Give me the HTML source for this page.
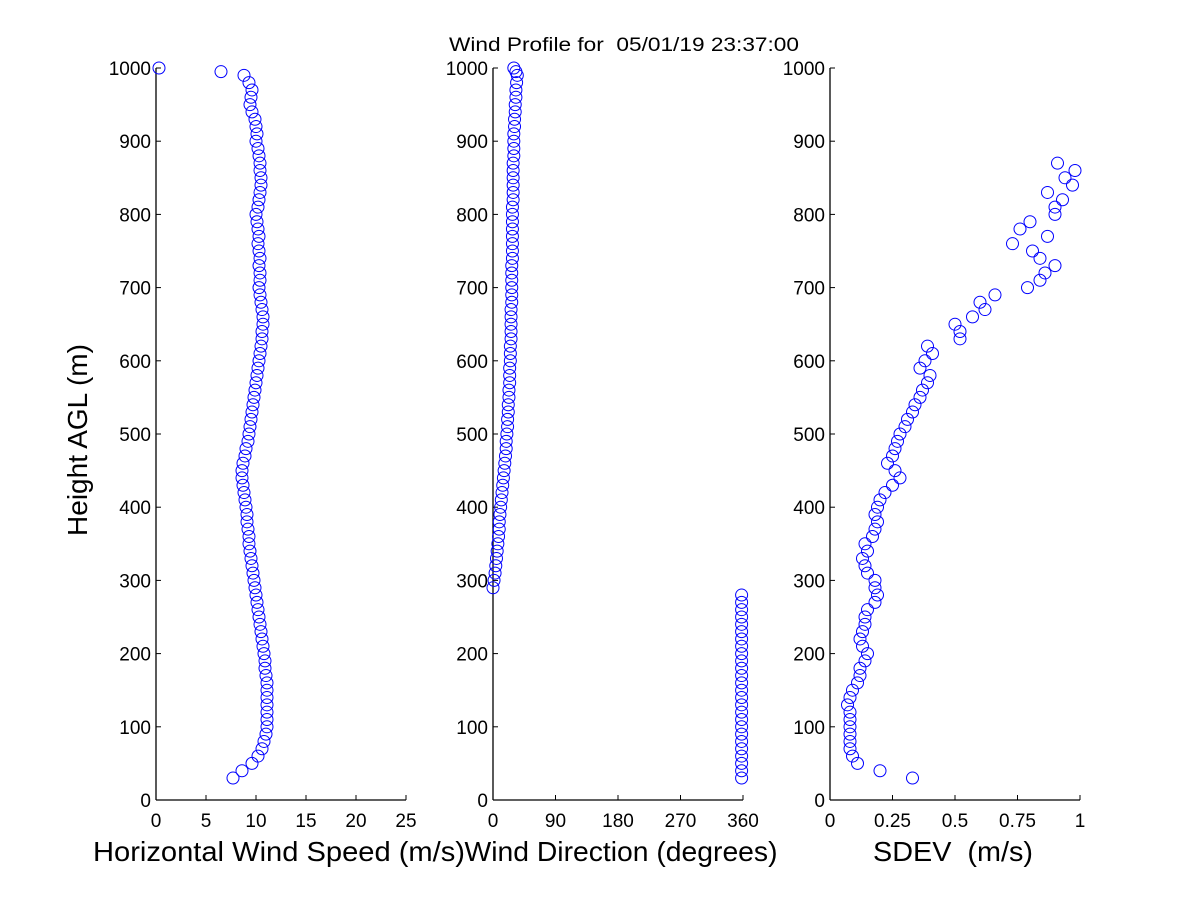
<!DOCTYPE html>
<html><head><meta charset="utf-8"><style>
body{margin:0;background:#fff}
svg text{font-family:"Liberation Sans",sans-serif;fill:#000;white-space:pre}
</style></head><body>
<svg id="c" width="1200" height="900">
<text x="624" y="51" text-anchor="middle" font-size="19" textLength="350" lengthAdjust="spacingAndGlyphs" xml:space="preserve">Wind Profile for  05/01/19 23:37:00</text>
<text transform="translate(87,440) rotate(-90)" text-anchor="middle" font-size="28">Height AGL (m)</text>
</svg>
<script>
const heights=[30,40,50,60,70,80,90,100,110,120,130,140,150,160,170,180,190,200,210,220,230,240,250,260,270,280,290,300,310,320,330,340,350,360,370,380,390,400,410,420,430,440,450,460,470,480,490,500,510,520,530,540,550,560,570,580,590,600,610,620,630,640,650,660,670,680,690,700,710,720,730,740,750,760,770,780,790,800,810,820,830,840,850,860,870,880,890,900,910,920,930,940,950,960,970,980,990,995,1000];
const speed=[7.7,8.6,9.6,10.2,10.6,10.8,11.0,11.1,11.1,11.1,11.1,11.1,11.1,11.1,11.0,10.9,10.9,10.8,10.7,10.6,10.5,10.4,10.3,10.2,10.1,10.0,9.9,9.8,9.7,9.6,9.5,9.4,9.3,9.3,9.2,9.1,9.1,9.0,8.9,8.8,8.7,8.6,8.6,8.7,8.9,9.0,9.2,9.3,9.4,9.5,9.6,9.7,9.8,9.9,10.0,10.1,10.2,10.3,10.4,10.5,10.6,10.6,10.7,10.7,10.6,10.5,10.4,10.3,10.4,10.4,10.3,10.4,10.3,10.2,10.3,10.2,10.1,10.0,10.2,10.3,10.4,10.5,10.5,10.4,10.4,10.3,10.2,10.0,10.1,10.0,9.9,9.6,9.4,9.5,9.6,9.3,8.8,6.5,0.3];
const direction=[358,358,358,358,358,358,358,358,358,358,358,358,358,358,358,358,358,358,358,358,358,358,358,358,358,358,0,1.5,3,4,5,6,7,8,9,9,10,11,12,13,14,15,16,17,18,19,19,20,21,21,22,22,23,23,24,24,24,25,25,25,26,26,26,26,26,27,27,27,27,27,27,28,28,28,28,28,28,28,28,29,29,29,29,29,29,30,30,30,30,31,31,32,32,33,33,34,35,33,30];
const sdev=[0.33,0.2,0.11,0.09,0.08,0.08,0.08,0.08,0.08,0.08,0.07,0.08,0.09,0.11,0.12,0.12,0.14,0.15,0.13,0.12,0.13,0.14,0.14,0.15,0.18,0.19,0.18,0.18,0.15,0.14,0.13,0.15,0.14,0.17,0.18,0.19,0.18,0.19,0.2,0.22,0.25,0.28,0.26,0.23,0.25,0.26,0.27,0.28,0.3,0.31,0.33,0.34,0.36,0.37,0.39,0.4,0.36,0.38,0.41,0.39,0.52,0.52,0.5,0.57,0.62,0.6,0.66,0.79,0.84,0.86,0.9,0.84,0.81,0.73,0.87,0.76,0.8,0.9,0.9,0.93,0.87,0.97,0.94,0.98,0.91,null,null,null,null,null,null,null,null,null,null,null,null,null,null];
const ticksY=[0,100,200,300,400,500,600,700,800,900,1000];
const ticksSpeed=[0,5,10,15,20,25];
const ticksDir=[0,90,180,270,360];
const ticksSdev=[0,0.25,0.5,0.75,1];
const tickLabSdev=['0','0.25','0.5','0.75','1'];
const NS='http://www.w3.org/2000/svg';
const svg=document.getElementById('c');
const Y0=800,Y1=68;
const y=v=>Y0-(v/1000)*(Y0-Y1);
function el(t,a,txt){const e=document.createElementNS(NS,t);for(const k in a)e.setAttribute(k,a[k]);if(txt!=null)e.textContent=txt;svg.appendChild(e);return e;}
function panel(name,x0,max,xt,xl,vals,title,tx,tl){
  const x=v=>x0+(v/max)*250;
  const ax=el('line',{x1:x0,y1:Y1,x2:x0,y2:Y0,stroke:'#000','stroke-width':1.3});
  
  
  const bx=el('line',{x1:x0,y1:Y0,x2:x0+250,y2:Y0,stroke:'#000','stroke-width':1.3});
  
  
  ticksY.forEach(t=>{
    const l=el('line',{x1:x0,y1:y(t),x2:x0+5,y2:y(t),stroke:'#000'});
    
    
    const s=el('text',{x:x0-5,y:y(t)+7,'text-anchor':'end','font-size':19},String(t));
    
    
  });
  xt.forEach((t,i)=>{
    const l=el('line',{x1:x(t),y1:Y0,x2:x(t),y2:Y0-5,stroke:'#000'});
    
    
    const s=el('text',{x:x(t),y:Y0+27,'text-anchor':'middle','font-size':19},xl[i]);
    
    
  });
  const tt=el('text',{x:tx,y:861,'text-anchor':'middle','font-size':28,textLength:tl,lengthAdjust:'spacingAndGlyphs'},title);
  
  
  vals.forEach((v,i)=>{
    if(v==null)return;
    const c=el('circle',{cx:x(v),cy:y(heights[i]),r:6,fill:'none',stroke:'#0000ff','stroke-width':1});
    
    
  });
}
panel('speed',156,25,ticksSpeed,ticksSpeed.map(String),speed,'Horizontal Wind Speed (m/s)',279,372);
panel('direction',493,360,ticksDir,ticksDir.map(String),direction,'Wind Direction (degrees)',621,313);
panel('sdev',830,1,ticksSdev,tickLabSdev,sdev,'SDEV  (m/s)',953,160);
</script>
</body></html>
